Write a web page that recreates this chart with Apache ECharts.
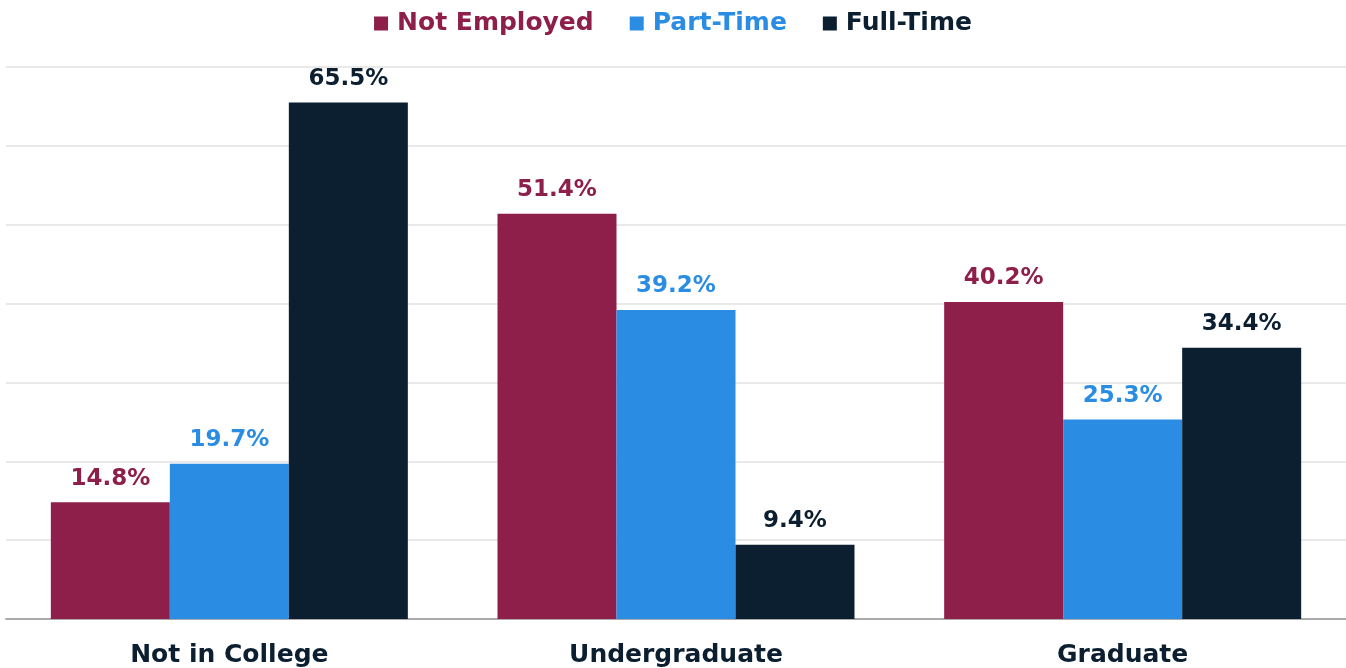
<!DOCTYPE html>
<html>
<head>
<meta charset="utf-8">
<script src="https://cdn.jsdelivr.net/npm/echarts@6/dist/echarts.min.js"></script>
<style>
  html, body { margin: 0; padding: 0; background: #ffffff; }
  #main { width: 1346px; height: 668px; }
</style>
</head>
<body>
<div id="main"></div>
<script>
var categories = ["Not in College", "Undergraduate", "Graduate"];
var notEmployed = [14.8, 51.4, 40.2];
var partTime = [19.7, 39.2, 25.3];
var fullTime = [65.5, 9.4, 34.4];

var font = "DejaVu Sans";
var colors = ["#8e1f4a", "#2a8de3", "#0b1f30"];

function bar(name, data, color) {
  return {
    name: name,
    type: "bar",
    data: data,
    barWidth: 119,
    barGap: "0%",
    itemStyle: { color: color },
    label: {
      show: true,
      position: "top",
      distance: 12,
      formatter: "{c}%",
      color: color,
      fontFamily: font,
      fontWeight: 700,
      fontSize: 23
    }
  };
}

var chart = echarts.init(document.getElementById("main"));
chart.setOption({
  animation: false,
  color: colors,
  legend: {
    top: 6,
    left: "center",
    itemWidth: 14,
    itemHeight: 14,
    itemGap: 36,
    icon: "rect",
    textStyle: { fontFamily: font, fontWeight: 700, fontSize: 25, padding: [0, 0, 0, 4] },
    data: [
      { name: "Not Employed", textStyle: { color: colors[0] } },
      { name: "Part-Time", textStyle: { color: colors[1] } },
      { name: "Full-Time", textStyle: { color: colors[2] } }
    ]
  },
  grid: { left: 6, right: 0, top: 67, bottom: 49 },
  xAxis: {
    type: "category",
    data: categories,
    axisTick: { show: false },
    axisLine: { lineStyle: { color: "#aaaaaa", width: 2 } },
    axisLabel: {
      color: "#0b1f30",
      fontFamily: font,
      fontWeight: 700,
      fontSize: 25,
      margin: 24
    }
  },
  yAxis: {
    type: "value",
    min: 0,
    max: 70,
    interval: 10,
    axisLabel: { show: false },
    axisLine: { show: false },
    axisTick: { show: false },
    splitLine: { lineStyle: { color: "#e2e2e2", width: 1.5 } }
  },
  series: [
    bar("Not Employed", notEmployed, colors[0]),
    bar("Part-Time", partTime, colors[1]),
    bar("Full-Time", fullTime, colors[2])
  ]
});
</script>
</body>
</html>
